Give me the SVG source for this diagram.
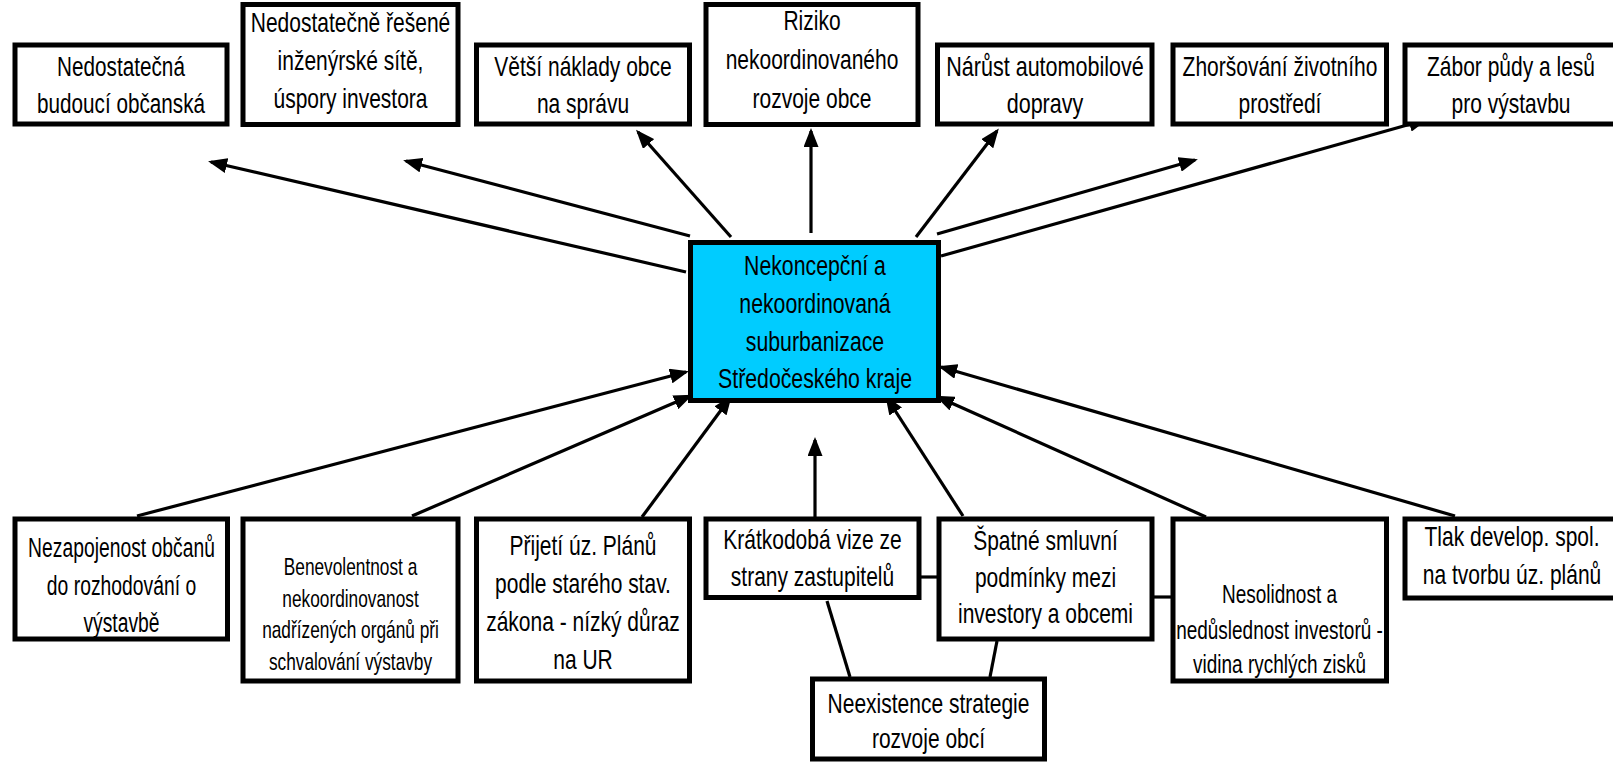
<svg xmlns="http://www.w3.org/2000/svg" width="1613" height="767" viewBox="0 0 1613 767">
<style>
.box{fill:#fff;stroke:#000;stroke-width:5}
.core{fill:#00CCFF;stroke:#000;stroke-width:5}
.t{font-family:"Liberation Sans",Arial,sans-serif;font-size:28px;text-anchor:middle;fill:#000}
.s{font-size:24px}
.m{font-size:26px}
.c line{stroke:#000;stroke-width:3.2}
</style>
<defs>
<marker id="ah" markerUnits="userSpaceOnUse" markerWidth="19" markerHeight="15" refX="16" refY="7.5" orient="auto">
<path d="M0,0 L19,7.5 L0,15 Z" fill="#000"/>
</marker>
</defs>
<g class="c" id="connectors">
<line x1="686" y1="272" x2="211" y2="162" marker-end="url(#ah)"/>
<line x1="690" y1="236" x2="406" y2="161" marker-end="url(#ah)"/>
<line x1="731" y1="237" x2="638" y2="132" marker-end="url(#ah)"/>
<line x1="811" y1="233" x2="811" y2="131" marker-end="url(#ah)"/>
<line x1="916" y1="237" x2="997" y2="131" marker-end="url(#ah)"/>
<line x1="937" y1="234" x2="1195" y2="160" marker-end="url(#ah)"/>
<line x1="941" y1="256" x2="1425" y2="120" marker-end="url(#ah)"/>
<line x1="137" y1="516" x2="686" y2="372" marker-end="url(#ah)"/>
<line x1="412" y1="516" x2="690" y2="396" marker-end="url(#ah)"/>
<line x1="642" y1="517" x2="730" y2="398" marker-end="url(#ah)"/>
<line x1="815" y1="517" x2="815" y2="440" marker-end="url(#ah)"/>
<line x1="963" y1="516" x2="887" y2="398" marker-end="url(#ah)"/>
<line x1="1206" y1="517" x2="938" y2="397" marker-end="url(#ah)"/>
<line x1="1455" y1="516" x2="941" y2="367" marker-end="url(#ah)"/>
<line x1="915" y1="577" x2="939" y2="577"/>
<line x1="1154" y1="597" x2="1172" y2="597"/>
<line x1="827" y1="601" x2="850" y2="677"/>
<line x1="997" y1="641" x2="990" y2="677"/>
</g>
<g id="core">
<rect class="core" x="690.5" y="242.5" width="248" height="158"/>
<text class="t" transform="translate(815,0) scale(0.76,1)"><tspan x="0" y="275">Nekoncepční a</tspan><tspan x="0" y="313">nekoordinovaná</tspan><tspan x="0" y="351">suburbanizace</tspan><tspan x="0" y="388">Středočeského kraje</tspan></text>
</g>
<g id="n1">
<rect class="box" x="15" y="45" width="212" height="79"/>
<text class="t" transform="translate(121,0) scale(0.74,1)"><tspan x="0" y="76">Nedostatečná</tspan><tspan x="0" y="113">budoucí občanská</tspan></text>
</g>
<g id="n2">
<rect class="box" x="243" y="4.5" width="215" height="120"/>
<text class="t" transform="translate(350.5,0) scale(0.75,1)"><tspan x="0" y="32">Nedostatečně řešené</tspan><tspan x="0" y="70">inženýrské sítě,</tspan><tspan x="0" y="108">úspory investora</tspan></text>
</g>
<g id="n3">
<rect class="box" x="476.5" y="45" width="213" height="79"/>
<text class="t" transform="translate(583,0) scale(0.75,1)"><tspan x="0" y="76">Větší náklady obce</tspan><tspan x="0" y="113">na správu</tspan></text>
</g>
<g id="n4">
<rect class="box" x="706" y="4.5" width="212" height="120"/>
<text class="t" transform="translate(812,0) scale(0.75,1)"><tspan x="0" y="30">Riziko</tspan><tspan x="0" y="69">nekoordinovaného</tspan><tspan x="0" y="108">rozvoje obce</tspan></text>
</g>
<g id="n5">
<rect class="box" x="937.5" y="45" width="214.5" height="79"/>
<text class="t" transform="translate(1045,0) scale(0.77,1)"><tspan x="0" y="76">Nárůst automobilové</tspan><tspan x="0" y="113">dopravy</tspan></text>
</g>
<g id="n6">
<rect class="box" x="1173" y="45" width="213.5" height="79"/>
<text class="t" transform="translate(1280,0) scale(0.75,1)"><tspan x="0" y="76">Zhoršování životního</tspan><tspan x="0" y="113">prostředí</tspan></text>
</g>
<g id="n7">
<rect class="box" x="1405" y="45" width="220" height="79"/>
<text class="t" transform="translate(1511,0) scale(0.75,1)"><tspan x="0" y="76">Zábor půdy a lesů</tspan><tspan x="0" y="113">pro výstavbu</tspan></text>
</g>
<g id="b1">
<rect class="box" x="15" y="519" width="212.5" height="120"/>
<text class="t" transform="translate(121.5,0) scale(0.69,1)"><tspan x="0" y="557">Nezapojenost občanů</tspan><tspan x="0" y="595">do rozhodování o</tspan><tspan x="0" y="632">výstavbě</tspan></text>
</g>
<g id="b2">
<rect class="box" x="243" y="519" width="215" height="162"/>
<text class="t s" transform="translate(350.5,0) scale(0.72,1)"><tspan x="0" y="575">Benevolentnost a</tspan><tspan x="0" y="607">nekoordinovanost</tspan><tspan x="0" y="638">nadřízených orgánů při</tspan><tspan x="0" y="670">schvalování výstavby</tspan></text>
</g>
<g id="b3">
<rect class="box" x="476.5" y="519" width="213" height="162"/>
<text class="t" transform="translate(583,0) scale(0.75,1)"><tspan x="0" y="555">Přijetí úz. Plánů</tspan><tspan x="0" y="593">podle starého stav.</tspan><tspan x="0" y="631">zákona - nízký důraz</tspan><tspan x="0" y="669">na UR</tspan></text>
</g>
<g id="b4">
<rect class="box" x="706" y="519" width="213" height="78.5"/>
<text class="t" transform="translate(812.5,0) scale(0.75,1)"><tspan x="0" y="549">Krátkodobá vize ze</tspan><tspan x="0" y="586">strany zastupitelů</tspan></text>
</g>
<g id="b5">
<rect class="box" x="939" y="519" width="213" height="120"/>
<text class="t" transform="translate(1045.5,0) scale(0.75,1)"><tspan x="0" y="550">Špatné smluvní</tspan><tspan x="0" y="587">podmínky mezi</tspan><tspan x="0" y="623">investory a obcemi</tspan></text>
</g>
<g id="b6">
<rect class="box" x="1173" y="519" width="213.5" height="162"/>
<text class="t m" transform="translate(1279.5,0) scale(0.73,1)"><tspan x="0" y="603">Nesolidnost a</tspan><tspan x="0" y="639">nedůslednost investorů -</tspan><tspan x="0" y="673">vidina rychlých zisků</tspan></text>
</g>
<g id="b7">
<rect class="box" x="1405" y="519" width="220" height="79"/>
<text class="t" transform="translate(1512,0) scale(0.75,1)"><tspan x="0" y="546">Tlak develop. spol.</tspan><tspan x="0" y="584">na tvorbu úz. plánů</tspan></text>
</g>
<g id="b8">
<rect class="box" x="812.5" y="679" width="232" height="80"/>
<text class="t" transform="translate(928.5,0) scale(0.75,1)"><tspan x="0" y="713">Neexistence strategie</tspan><tspan x="0" y="748">rozvoje obcí</tspan></text>
</g>
</svg>
